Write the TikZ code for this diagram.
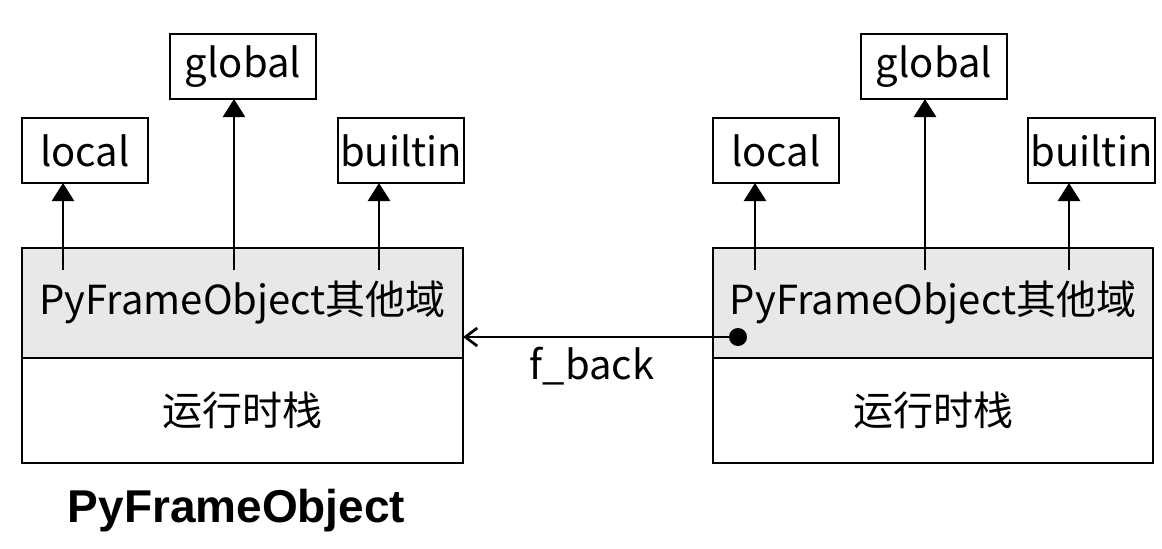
\documentclass[tikz,border=0pt]{standalone}
\usepackage{fontspec}
\setmainfont{Noto Sans CJK SC}
\newfontfamily\titlefont{Liberation Sans}
\usetikzlibrary{positioning}
\usetikzlibrary{arrows.meta}
\usetikzlibrary{calc}

\begin{document}
\begin{tikzpicture}[
    x=0.5pt, y=-0.5pt,
    every node/.style={font=\fontsize{20}{24}\selectfont},
    fieldbox/.style={rectangle, draw=black, line width=1.35pt, fill=black!9, minimum width=220.5pt, minimum height=55pt, inner sep=0pt, outer sep=0pt},
    stackbox/.style={rectangle, draw=black, line width=1.35pt, fill=white, minimum width=220.5pt, minimum height=52.5pt, inner sep=0pt, outer sep=0pt},
    scopebox/.style={rectangle, draw=black, line width=1.35pt, fill=white, minimum height=32.5pt, inner sep=0pt, outer sep=0pt},
    up/.style={-{Triangle[length=9pt,width=11pt]}, line width=1.35pt},
]
    \useasboundingbox (0,0) rectangle (1162,548);

    % left frame
    \node[fieldbox] (fieldL) at (242.5,303) {PyFrameObject其他域};
    \node[stackbox] (stackL) [below=0pt of fieldL] {运行时栈};
    \node[font=\titlefont\bfseries\fontsize{23}{26}\selectfont, anchor=base] (nameL) at (236.5,522) {PyFrameObject};

    \node[scopebox, minimum width=63pt] (localL) at (85,150.5) {local};
    \node[scopebox, minimum width=73pt] (globalL) at (243,66.5) {global};
    \node[scopebox, minimum width=63pt] (builtinL) at (401,150.5) {builtin};

    % right frame
    \node[fieldbox, minimum width=220pt] (fieldR) at (933,303) {PyFrameObject其他域};
    \node[stackbox, minimum width=220pt] (stackR) [below=0pt of fieldR] {运行时栈};

    \node[scopebox, minimum width=63pt] (localR) at (776,150.5) {local};
    \node[scopebox, minimum width=73pt] (globalR) at (934,66.5) {global};
    \node[scopebox, minimum width=63.5pt] (builtinR) at (1091.5,150.5) {builtin};

    % arrow feet
    \coordinate (pL1) at (63,270);
    \coordinate (pL2) at (234,270);
    \coordinate (pL3) at (379,270);
    \coordinate (pR1) at (755,270);
    \coordinate (pR2) at (925,270);
    \coordinate (pR3) at (1069,270);

    \draw[up] (pL1) -- (pL1 |- localL.south);
    \draw[up] (pL2) -- (pL2 |- globalL.south);
    \draw[up] (pL3) -- (pL3 |- builtinL.south);
    \draw[up] (pR1) -- (pR1 |- localR.south);
    \draw[up] (pR2) -- (pR2 |- globalR.south);
    \draw[up] (pR3) -- (pR3 |- builtinR.south);

    % f_back pointer
    \coordinate (back) at (738,337);
    \fill (back) circle (4.5pt);
    \draw[-{Straight Barb[length=6pt,width=9pt]}, line width=1.35pt] (back) -- (back -| fieldL.east);
    \node (backlabel) at (592,366) {f\_back};
\end{tikzpicture}
\end{document}
